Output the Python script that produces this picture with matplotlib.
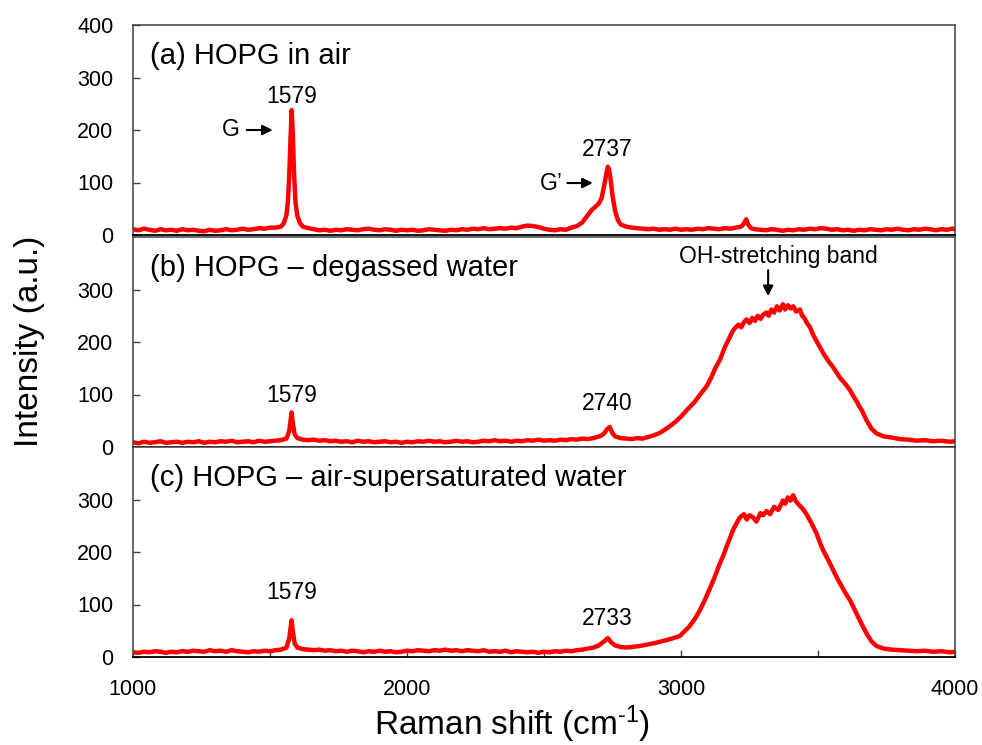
import matplotlib
matplotlib.use('Agg')
import matplotlib.pyplot as plt
from matplotlib.ticker import MultipleLocator

plt.rcParams['font.family'] = ['Liberation Sans', 'DejaVu Sans']
plt.rcParams['mathtext.fontset'] = 'custom'
plt.rcParams['mathtext.rm'] = 'Liberation Sans'
plt.rcParams['mathtext.default'] = 'regular'

#%% 데이터

# (a) HOPG in air
xa = [1000, 1020, 1040, 1060, 1080, 1100, 1120, 1140, 1160, 1180,
      1200, 1220, 1240, 1260, 1280, 1300, 1320, 1340, 1360, 1380,
      1400, 1420, 1440, 1460, 1480, 1500, 1520, 1540, 1550, 1560,
      1565, 1570, 1575, 1579, 1583, 1588, 1593, 1600, 1610, 1620,
      1640, 1660, 1680, 1700, 1720, 1740, 1760, 1780, 1800, 1820,
      1840, 1860, 1880, 1900, 1920, 1940, 1960, 1980, 2000, 2020,
      2040, 2060, 2080, 2100, 2120, 2140, 2160, 2180, 2200, 2220,
      2240, 2260, 2280, 2300, 2320, 2340, 2360, 2380, 2400, 2420,
      2440, 2460, 2480, 2500, 2520, 2540, 2560, 2580, 2600, 2620,
      2640, 2660, 2675, 2690, 2700, 2710, 2720, 2728, 2733, 2737,
      2742, 2750, 2760, 2770, 2780, 2800, 2820, 2840, 2860, 2880,
      2900, 2920, 2940, 2960, 2980, 3000, 3020, 3040, 3060, 3080,
      3100, 3120, 3140, 3160, 3180, 3200, 3220, 3230, 3238, 3245,
      3255, 3270, 3290, 3310, 3330, 3350, 3370, 3390, 3410, 3430,
      3450, 3470, 3490, 3510, 3530, 3550, 3570, 3590, 3610, 3630,
      3650, 3670, 3690, 3710, 3730, 3750, 3770, 3790, 3810, 3830,
      3850, 3870, 3890, 3910, 3930, 3950, 3970, 3990, 4000]
ya = [11, 9, 12, 10, 8, 11, 9, 10, 8, 11,
      9, 10, 8, 7, 10, 8, 9, 11, 9, 10,
      12, 10, 11, 13, 12, 14, 14, 16, 22, 38,
      62, 110, 185, 238, 195, 115, 62, 36, 22, 16,
      13, 11, 9, 10, 8, 10, 9, 11, 10, 9,
      11, 12, 10, 9, 11, 10, 8, 10, 9, 10,
      8, 9, 11, 10, 9, 8, 10, 9, 11, 10,
      12, 11, 13, 11, 12, 13, 12, 14, 13, 16,
      18, 17, 15, 12, 10, 9, 11, 10, 14, 17,
      24, 38, 48, 55, 60, 70, 95, 118, 130, 126,
      110, 75, 45, 28, 20, 16, 14, 13, 12, 11,
      12, 10, 11, 10, 12, 10, 11, 10, 12, 11,
      13, 12, 11, 13, 12, 14, 16, 22, 30, 20,
      13, 11, 10, 9, 11, 10, 8, 10, 9, 11,
      10, 12, 11, 13, 12, 10, 11, 9, 10, 8,
      10, 9, 11, 10, 9, 11, 10, 12, 10, 9,
      11, 10, 12, 11, 9, 11, 10, 12, 11]

# (b) HOPG - degassed water
xb = [1000, 1020, 1040, 1060, 1080, 1100, 1120, 1140, 1160, 1180,
      1200, 1220, 1240, 1260, 1280, 1300, 1320, 1340, 1360, 1380,
      1400, 1420, 1440, 1460, 1480, 1500, 1520, 1540, 1560, 1570,
      1575, 1579, 1583, 1590, 1600, 1620, 1640, 1660, 1680, 1700,
      1720, 1740, 1760, 1780, 1800, 1820, 1840, 1860, 1880, 1900,
      1920, 1940, 1960, 1980, 2000, 2020, 2040, 2060, 2080, 2100,
      2120, 2140, 2160, 2180, 2200, 2220, 2240, 2260, 2280, 2300,
      2320, 2340, 2360, 2380, 2400, 2420, 2440, 2460, 2480, 2500,
      2520, 2540, 2560, 2580, 2600, 2620, 2640, 2660, 2680, 2700,
      2710, 2720, 2730, 2740, 2750, 2760, 2780, 2800, 2820, 2840,
      2860, 2880, 2900, 2923, 2950, 2980, 3000, 3021, 3050, 3070,
      3094, 3110, 3125, 3142, 3160, 3175, 3190, 3200, 3210, 3220,
      3230, 3239, 3250, 3260, 3270, 3280, 3290, 3300, 3312, 3320,
      3330, 3340, 3350, 3360, 3372, 3380, 3390, 3400, 3410, 3420,
      3434, 3442, 3450, 3460, 3471, 3480, 3490, 3507, 3520, 3530,
      3540, 3555, 3570, 3580, 3590, 3600, 3617, 3630, 3640, 3650,
      3660, 3677, 3695, 3713, 3740, 3770, 3800, 3830, 3860, 3890,
      3920, 3950, 3980, 4000]
yb = [9, 7, 10, 8, 9, 11, 8, 9, 10, 8,
      10, 9, 11, 8, 10, 9, 11, 10, 12, 9,
      10, 11, 9, 12, 10, 11, 12, 13, 16, 30,
      50, 66, 46, 24, 17, 14, 13, 14, 12, 13,
      11, 12, 10, 11, 9, 12, 10, 11, 9, 10,
      11, 9, 10, 8, 10, 9, 11, 10, 12, 10,
      11, 9, 10, 12, 10, 11, 9, 10, 12, 11,
      13, 11, 12, 10, 12, 11, 13, 12, 14, 12,
      13, 12, 14, 13, 15, 14, 16, 15, 17, 20,
      22, 26, 34, 38, 26, 20, 17, 16, 15, 17,
      16, 19, 22, 27, 36, 48, 58, 70, 86, 100,
      116, 132, 150, 166, 190, 206, 222, 228, 233, 228,
      238, 243, 236, 246, 240, 250, 244, 252, 256, 250,
      262, 256, 268, 260, 272, 262, 270, 264, 268, 258,
      262, 250, 246, 236, 228, 216, 206, 190, 178, 170,
      162, 152, 140, 132, 126, 120, 108, 96, 88, 78,
      70, 51, 35, 26, 20, 18, 15, 14, 12, 13,
      11, 12, 10, 11]

# (c) HOPG - air-supersaturated water
xc = [1000, 1020, 1040, 1060, 1080, 1100, 1120, 1140, 1160, 1180,
      1200, 1220, 1240, 1260, 1280, 1300, 1320, 1340, 1360, 1380,
      1400, 1420, 1440, 1460, 1480, 1500, 1520, 1540, 1560, 1570,
      1575, 1579, 1583, 1590, 1600, 1620, 1640, 1660, 1680, 1700,
      1720, 1740, 1760, 1780, 1800, 1820, 1840, 1860, 1880, 1900,
      1920, 1940, 1960, 1980, 2000, 2020, 2040, 2060, 2080, 2100,
      2120, 2140, 2160, 2180, 2200, 2220, 2240, 2260, 2280, 2300,
      2320, 2340, 2360, 2380, 2400, 2420, 2440, 2460, 2480, 2500,
      2520, 2540, 2560, 2580, 2600, 2620, 2640, 2660, 2680, 2700,
      2710, 2720, 2733, 2745, 2760, 2780, 2800, 2820, 2850, 2880,
      2900, 2930, 2960, 2996, 3030, 3050, 3069, 3090, 3105, 3118,
      3130, 3140, 3155, 3166, 3180, 3190, 3200, 3215, 3230, 3240,
      3250, 3263, 3275, 3290, 3300, 3312, 3325, 3340, 3355, 3372,
      3380, 3390, 3400, 3409, 3420, 3430, 3445, 3458, 3475, 3494,
      3510, 3520, 3540, 3555, 3570, 3585, 3600, 3617, 3630, 3645,
      3660, 3677, 3695, 3713, 3740, 3770, 3800, 3830, 3860, 3890,
      3920, 3950, 3980, 4000]
yc = [9, 8, 10, 9, 11, 10, 8, 10, 9, 11,
      10, 12, 11, 10, 13, 11, 12, 10, 13, 11,
      10, 9, 11, 10, 12, 11, 13, 14, 18, 35,
      55, 70, 50, 26, 18, 15, 14, 13, 14, 12,
      13, 11, 12, 10, 12, 11, 9, 11, 10, 12,
      10, 11, 9, 10, 12, 11, 13, 12, 11, 13,
      12, 14, 12, 13, 11, 13, 12, 11, 13, 10,
      11, 10, 12, 9, 11, 10, 9, 10, 8, 10,
      9, 11, 10, 12, 11, 13, 14, 16, 18, 22,
      26, 30, 36, 28, 22, 19, 18, 19, 21, 24,
      26, 30, 34, 40, 58, 72, 89, 112, 130, 146,
      162, 176, 194, 210, 228, 242, 252, 266, 272, 262,
      270, 266, 258, 274, 270, 278, 272, 286, 280, 298,
      292, 304, 298, 308, 296, 290, 282, 272, 256, 236,
      214, 202, 182, 166, 150, 136, 122, 108, 94, 78,
      62, 45, 30, 21, 16, 14, 13, 12, 11, 12,
      10, 11, 9, 10]

panel_titles = ['(a) HOPG in air', '(b) HOPG – degassed water',
                '(c) HOPG – air-supersaturated water']
peak_labels = [('1579', '2737'), ('1579', '2740'), ('1579', '2733')]

#%% 그래프

fig = plt.figure(figsize=(9.82, 7.45), dpi=100)

left, width = 133 / 982, (955 - 133) / 982
bottoms = [1 - 235 / 745, 1 - 447 / 745, 1 - 657 / 745]
height = 210 / 745

axes = []
for i in range(3):
    ax = fig.add_axes([left, bottoms[i], width, height])
    axes.append(ax)

datasets = [(xa, ya), (xb, yb), (xc, yc)]
arrow_style = dict(arrowstyle='-|>,head_length=0.6,head_width=0.3', color='k', lw=1.5)

for i, ax in enumerate(axes):
    x, y = datasets[i]
    ax.plot(x, y, color='#ff0000', lw=3.2, solid_joinstyle='round')
    ax.set_xlim(1000, 4000)
    ax.set_ylim(0, 400)
    if i == 0:
        ax.set_yticks([0, 100, 200, 300, 400])
    else:
        ax.set_yticks([0, 100, 200, 300])
    ax.tick_params(axis='y', direction='in', length=5, width=1, pad=14,
                   labelsize=15.5, color='#404040')
    for s in ['left', 'right', 'top']:
        ax.spines[s].set_color('#404040')
        ax.spines[s].set_linewidth(1.1)
    ax.spines['bottom'].set_color('black')
    ax.spines['bottom'].set_linewidth(1.3)
    ax.text(1062, 340, panel_titles[i], fontsize=21, va='center', ha='left')
    if i < 2:
        ax.tick_params(axis='x', length=0, labelbottom=False)

# x축 (맨 아래 패널)
axc = axes[2]
axc.xaxis.set_major_locator(MultipleLocator(1000))
axc.xaxis.set_minor_locator(MultipleLocator(500))
axc.tick_params(axis='x', which='both', direction='in', length=5, width=1,
                pad=16, labelsize=15.5, color='#404040')

# (a) 주석
ax = axes[0]
ax.text(1579, 263, peak_labels[0][0], fontsize=16.5, ha='center', va='center')
ax.text(2730, 162, peak_labels[0][1], fontsize=16.5, ha='center', va='center')
ax.text(1388, 200, 'G', fontsize=16.5, ha='right', va='center')
ax.annotate('', xy=(1520, 200), xytext=(1405, 200), arrowprops=arrow_style)
ax.text(2568, 99, 'G’', fontsize=16.5, ha='right', va='center')
ax.annotate('', xy=(2688, 99), xytext=(2575, 99), arrowprops=arrow_style)

# (b) 주석
ax = axes[1]
ax.text(1579, 99, peak_labels[1][0], fontsize=16.5, ha='center', va='center')
ax.text(2730, 82, peak_labels[1][1], fontsize=16.5, ha='center', va='center')
ax.text(3354, 363, 'OH-stretching band', fontsize=16.5, ha='center', va='center')
ax.annotate('', xy=(3318, 282), xytext=(3318, 342), arrowprops=arrow_style)

# (c) 주석
ax = axes[2]
ax.text(1579, 122, peak_labels[2][0], fontsize=16.5, ha='center', va='center')
ax.text(2730, 74, peak_labels[2][1], fontsize=16.5, ha='center', va='center')

fig.text(30 / 982, 1 - 341 / 745, 'Intensity (a.u.)', rotation=90,
         fontsize=24, ha='center', va='center')
fig.text(512 / 982, 1 - 735 / 745, 'Raman shift (cm$^{\u20101}$)',
         fontsize=24, ha='center', va='baseline')

fig.savefig('out.png', dpi=100)
